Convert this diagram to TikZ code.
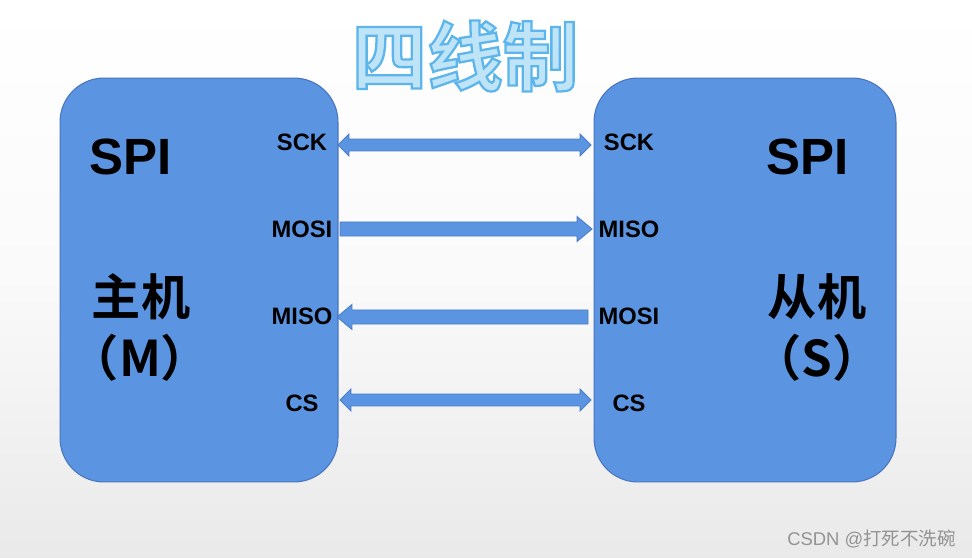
\documentclass[tikz,border=0pt]{standalone}
\usepackage{fontspec}
\setmainfont{Liberation Sans}
\newfontfamily\cjk{Noto Sans CJK SC}[BoldFont={Noto Sans CJK SC Bold}]
\usetikzlibrary{calc, positioning}
\definecolor{boxblue}{HTML}{5B95E2}
\definecolor{boxedge}{HTML}{4874C0}
\definecolor{arrowedge}{HTML}{4B7CC8}
\definecolor{titlefill}{HTML}{BFE4F8}
\tikzset{
    device/.style={rectangle, rounded corners=25pt, draw=boxedge, fill=boxblue, line width=0.6pt},
    bigtext/.style={font=\bfseries\fontsize{29}{31}\selectfont, inner sep=0pt},
    cjktext/.style={font=\cjk\bfseries\fontsize{28}{30}\selectfont, inner sep=0pt},
    pin/.style={font=\bfseries\fontsize{13.5}{14}\selectfont, inner sep=0pt},
    bothways/.style={draw=arrowedge, fill=boxblue, line width=0.5pt, to path={
        let \p1=($(\tikztostart)!6.2pt!(\tikztotarget)$), \p2=($(\tikztotarget)!6.2pt!(\tikztostart)$) in
        (\tikztostart) -- ($(\p1)!6.2pt!90:(\tikztotarget)$) -- ($(\p1)!3.4pt!90:(\tikztotarget)$)
        -- ($(\p2)!3.4pt!90:(\tikztotarget)$) -- ($(\p2)!6.2pt!90:(\tikztotarget)$) -- (\tikztotarget)
        -- ($(\p2)!6.2pt!-90:(\tikztotarget)$) -- ($(\p2)!3.4pt!-90:(\tikztotarget)$)
        -- ($(\p1)!3.4pt!-90:(\tikztotarget)$) -- ($(\p1)!6.2pt!-90:(\tikztotarget)$) -- cycle}},
    oneway/.style={draw=arrowedge, fill=boxblue, line width=0.5pt, to path={
        let \p2=($(\tikztotarget)!8.5pt!(\tikztostart)$) in
        ($(\tikztostart)!4pt!90:(\tikztotarget)$) -- ($(\p2)!4pt!90:(\tikztotarget)$)
        -- ($(\p2)!7.1pt!90:(\tikztotarget)$) -- (\tikztotarget)
        -- ($(\p2)!7.1pt!-90:(\tikztotarget)$) -- ($(\p2)!4pt!-90:(\tikztotarget)$)
        -- ($(\tikztostart)!4pt!-90:(\tikztotarget)$) -- cycle}}
}

\begin{document}
\begin{tikzpicture}[x=0.02cm, y=-0.02cm]
    % background
    \useasboundingbox (0,0) rectangle (972,557);
    \shade[top color=white, bottom color=gray!17, middle color=gray!4] (0,0) rectangle (972,557);

    % title, filled and outlined
    \node (title) at (465,56) {\cjk\bfseries\fontsize{43}{45}\selectfont\color{titlefill}%
        \special{pdf:literal direct 2 Tr 1.3 w 0.36 0.71 0.92 RG}四线制\special{pdf:literal direct 0 Tr}};

    % master and slave
    \node (master) [device, minimum width=5.56cm, minimum height=8.08cm] at (199,280) {};
    \node (slave) [device, minimum width=6.04cm, minimum height=8.08cm] at (745,280) {};

    \node (mspi) [bigtext] at (131,157) {SPI};
    \node (mname) [cjktext] at (141,297) {主机};
    \node (mtag) [cjktext] at (140,358) {（M）};
    \node (sspi) [bigtext] at (808,157) {SPI};
    \node (sname) [cjktext] at (817,297) {从机};
    \node (stag) [cjktext] at (817,358) {（S）};

    % pins
    \node (msck) [pin] at (302,142) {SCK};
    \node (mmosi) [pin] at (302,229) {MOSI};
    \node (mmiso) [pin] at (302,316) {MISO};
    \node (mcs) [pin] at (302,403) {CS};
    \node (ssck) [pin] at (629,142) {SCK};
    \node (smiso) [pin] at (629,229) {MISO};
    \node (smosi) [pin] at (629,316) {MOSI};
    \node (scs) [pin] at (629,403) {CS};

    % arrow ends
    \coordinate (a1) at (338,145);
    \coordinate (b1) at (591,145);
    \coordinate (a2) at (340,229);
    \coordinate (b2) at (592,229);
    \coordinate (a3) at (337,317);
    \coordinate (b3) at (588,317);
    \coordinate (a4) at (340,400);
    \coordinate (b4) at (591,400);

    \draw[bothways] (a1) to (b1);
    \draw[oneway] (a2) to (b2);
    \draw[oneway] (b3) to (a3);
    \draw[bothways] (a4) to (b4);

    % watermark
    \node (mark) [anchor=east, text=gray!85, font=\fontsize{10.5}{12}\selectfont, inner sep=0pt] at (956,539) {CSDN @{\cjk 打死不洗碗}};
\end{tikzpicture}
\end{document}
